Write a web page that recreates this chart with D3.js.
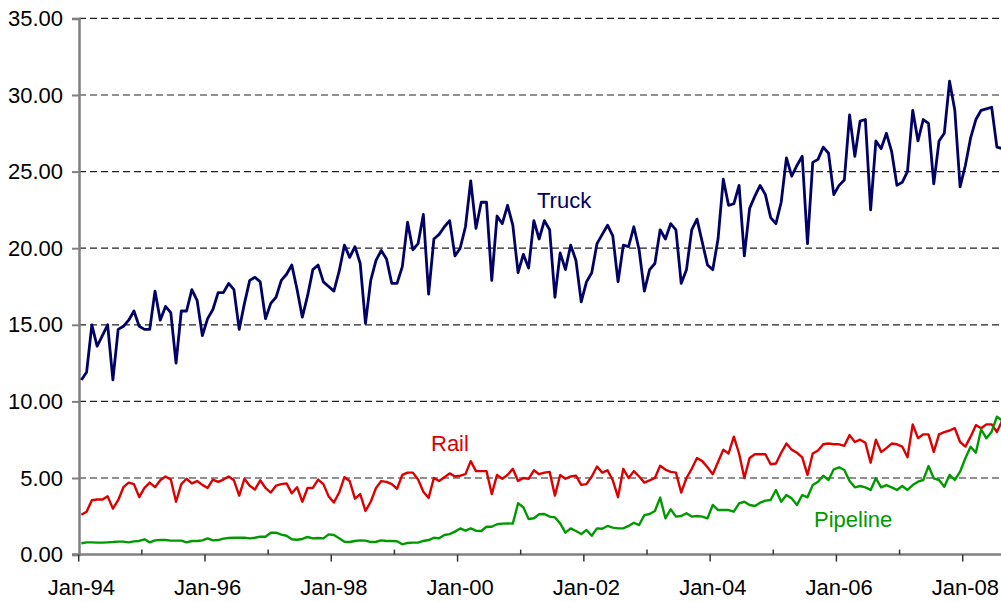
<!DOCTYPE html>
<html><head><meta charset="utf-8">
<script src="https://cdn.jsdelivr.net/npm/d3@7"></script>
<style>
html,body{margin:0;padding:0;background:#fff;}
svg{display:block;font-family:"Liberation Sans",Arial,sans-serif;}
</style></head>
<body><svg id="c" width="1001" height="602"></svg>
<script>
// ---- data (monthly, Jan-1994 .. Aug-2008) ----
const startMonth = new Date(1994, 0, 1);
const monthCount = 176;
const truck = [11.4,11.9,15.0,13.6,14.3,15.0,11.4,14.7,14.9,15.3,15.9,14.9,
14.7,14.7,17.2,15.3,16.2,15.8,12.5,15.9,15.9,17.3,16.6,14.3,
15.4,16.0,17.1,17.1,17.7,17.3,14.7,16.4,17.9,18.1,17.8,15.4,
16.4,16.8,17.9,18.3,18.9,17.3,15.5,16.9,18.6,18.9,17.8,17.5,
17.2,18.5,20.2,19.4,20.1,19.0,15.1,17.9,19.2,19.85,19.3,17.7,
17.7,18.8,21.7,19.9,20.3,22.2,17.0,20.6,20.9,21.4,21.8,19.5,
20.0,21.4,24.4,21.3,23.0,23.0,17.9,22.1,21.6,22.8,21.5,18.4,
19.6,18.7,21.8,20.6,21.8,21.2,16.8,19.7,18.6,20.2,19.2,16.5,
17.8,18.4,20.3,20.9,21.5,20.8,17.8,20.2,20.1,21.4,19.9,17.2,
18.6,19.0,21.2,20.6,21.6,21.2,17.7,18.6,21.2,21.9,20.4,18.9,
18.6,20.6,24.5,22.8,22.9,24.1,19.5,22.6,23.4,24.1,23.5,22.0,
21.6,23.0,25.9,24.7,25.4,26.0,20.3,25.6,25.8,26.6,26.2,23.5,
24.1,24.45,28.7,26.0,28.3,28.4,22.5,27.0,26.5,27.5,26.3,24.1,
24.3,25.0,29.0,27.0,28.4,28.15,24.2,27.0,27.5,30.9,29.0,24.0,
25.4,27.2,28.4,29.0,29.1,29.2,26.6,26.5];
const rail = [2.6,2.8,3.55,3.6,3.6,3.8,3.0,3.55,4.4,4.7,4.6,3.75,
4.35,4.7,4.4,4.85,5.1,4.9,3.45,4.6,4.95,4.65,4.8,4.55,
4.35,4.9,4.75,4.9,5.1,4.85,3.85,4.95,4.5,4.25,4.85,4.35,
4.05,4.5,4.6,4.65,4.0,4.4,3.45,4.35,4.35,4.9,4.6,3.8,
3.4,4.05,5.05,4.8,3.65,3.95,2.85,3.45,4.35,4.8,4.75,4.6,
4.3,5.2,5.35,5.35,4.9,4.1,3.7,5.0,4.8,5.05,5.3,5.1,
5.15,5.25,6.1,5.45,5.45,5.45,3.95,5.2,4.95,5.2,5.6,4.8,
5.0,4.95,5.5,5.25,5.35,5.4,3.85,5.2,4.95,5.1,5.15,4.55,
4.6,5.1,5.75,5.35,5.5,4.85,3.75,5.6,5.0,5.45,5.1,4.7,
4.85,5.0,5.8,5.55,5.4,5.35,4.05,5.0,5.6,6.3,6.1,5.7,
5.25,6.05,6.85,6.6,7.7,6.6,5.0,6.3,6.55,6.55,6.55,5.9,
5.95,6.65,7.25,6.85,6.65,6.35,5.2,6.6,6.8,7.2,7.25,7.2,
7.2,7.1,7.8,7.35,7.5,7.3,6.0,7.5,6.7,6.95,7.25,7.2,
7.05,6.35,8.5,7.6,7.85,7.85,6.7,7.85,8.0,8.1,8.25,7.35,
7.05,7.7,8.45,8.25,8.5,8.5,8.0,8.75];
const pipeline = [0.74,0.80,0.80,0.78,0.78,0.80,0.82,0.85,0.85,0.80,0.86,0.89,
1.0,0.80,0.93,0.95,0.95,0.91,0.91,0.91,0.80,0.89,0.89,0.93,
1.06,0.93,0.95,1.04,1.08,1.10,1.10,1.10,1.06,1.10,1.17,1.17,
1.43,1.43,1.30,1.23,1.0,0.97,1.02,1.15,1.06,1.08,1.06,1.32,
1.28,1.06,0.84,0.82,0.89,0.93,0.91,0.82,0.84,0.93,0.89,0.89,
0.87,0.67,0.76,0.78,0.78,0.89,0.95,1.10,1.06,1.28,1.34,1.50,
1.71,1.56,1.71,1.56,1.54,1.82,1.82,1.98,2.02,2.04,2.02,3.35,
3.09,2.32,2.37,2.63,2.65,2.48,2.43,2.04,1.43,1.71,1.54,1.34,
1.61,1.23,1.71,1.69,1.87,1.76,1.71,1.71,1.87,2.08,1.93,2.58,
2.65,2.85,3.72,2.37,2.96,2.48,2.52,2.70,2.48,2.52,2.48,2.37,
3.24,2.91,2.91,2.91,2.80,3.35,3.45,3.24,3.17,3.39,3.52,3.56,
4.22,3.45,3.89,3.67,3.24,3.89,3.74,4.54,4.76,5.15,4.87,5.57,
5.70,5.52,4.8,4.39,4.48,4.39,4.22,4.98,4.39,4.54,4.39,4.22,
4.48,4.22,4.54,4.76,4.87,5.78,4.98,4.87,4.43,5.20,4.87,5.41,
6.29,7.04,6.65,8.18,7.59,8.02,9.0,8.74];
const yTicks = [0,5,10,15,20,25,30,35];
const xTickLabels = ["Jan-94","Jan-96","Jan-98","Jan-00","Jan-02","Jan-04","Jan-06","Jan-08"];
const seriesNames = ["Truck","Rail","Pipeline"];
const seriesColors = ["#000066","#dd0000","#009900"];

// ---- layout ----
const svg = d3.select("#c");
const months = d3.timeMonth.range(startMonth, d3.timeMonth.offset(startMonth, monthCount));
const fmt = d3.timeFormat("%b-%y");
const x = d3.scaleBand().domain(months.map(fmt)).range([78.7, 78.7 + 176*5.262]).padding(0);
const bw = x.bandwidth();
const y = d3.scaleLinear().domain([0,35]).range([554.6, 18.4]);
const xc = (i) => x(fmt(months[i])) + bw/2;

svg.append("rect").attr("width",1001).attr("height",602).attr("fill","#fff");

// gridlines
svg.append("g").selectAll("line").data(yTicks.filter(d=>d>0)).join("line")
  .attr("x1",79).attr("x2",1001).attr("y1",d=>y(d)).attr("y2",d=>y(d))
  .attr("stroke","#222").attr("stroke-width",1.2).attr("stroke-dasharray","7,4");

// y axis
const yAxis = d3.axisLeft(y).tickValues(yTicks).tickFormat(d3.format(".2f")).tickSize(7).tickPadding(9);
const gy = svg.append("g").attr("transform","translate(79,0)").call(yAxis);
gy.select(".domain").attr("stroke","#808080").attr("stroke-width",2.5);
gy.selectAll(".tick line").attr("stroke","#808080").attr("stroke-width",2);
gy.selectAll(".tick text").attr("font-size",22).attr("fill","#000").attr("font-family","Liberation Sans, Arial, sans-serif");

// x axis
svg.append("line").attr("x1",72).attr("x2",1001).attr("y1",y(0)).attr("y2",y(0))
  .attr("stroke","#808080").attr("stroke-width",2.5);
const yearIdx = d3.range(0, monthCount, 12);
svg.append("g").selectAll("line").data(yearIdx).join("line")
  .attr("x1",i=>x(fmt(months[i]))).attr("x2",i=>x(fmt(months[i])))
  .attr("y1",y(0))
  .attr("y2",i=> (i % 24 === 0) ? y(0)+7 : y(0)-5)
  .attr("stroke","#333").attr("stroke-width",1.5);
svg.append("g").selectAll("text").data(xTickLabels).join("text")
  .attr("x",(d,j)=>xc(j*24)).attr("y",595)
  .attr("text-anchor","middle").attr("font-size",22).attr("fill","#000")
  .text(d=>d);

// lines
const line = d3.line().x((d,i)=>xc(i)).y(d=>y(d));
svg.append("clipPath").attr("id","clp").append("rect")
  .attr("x",0).attr("y",0).attr("width",1001).attr("height",602);
[[truck,2.8],[rail,2.4],[pipeline,2.4]].forEach(([s,w],k)=>{
  svg.append("path").datum(s).attr("d",line).attr("fill","none")
    .attr("stroke",seriesColors[k]).attr("stroke-width",w)
    .attr("stroke-linejoin","round").attr("clip-path","url(#clp)");
});

// series labels
const labelPos = [[537,208],[431,451],[814,527]];
svg.append("g").selectAll("text").data(seriesNames).join("text")
  .attr("x",(d,i)=>labelPos[i][0]).attr("y",(d,i)=>labelPos[i][1])
  .attr("font-size",22).attr("fill",(d,i)=>seriesColors[i]).text(d=>d);
</script></body></html>
